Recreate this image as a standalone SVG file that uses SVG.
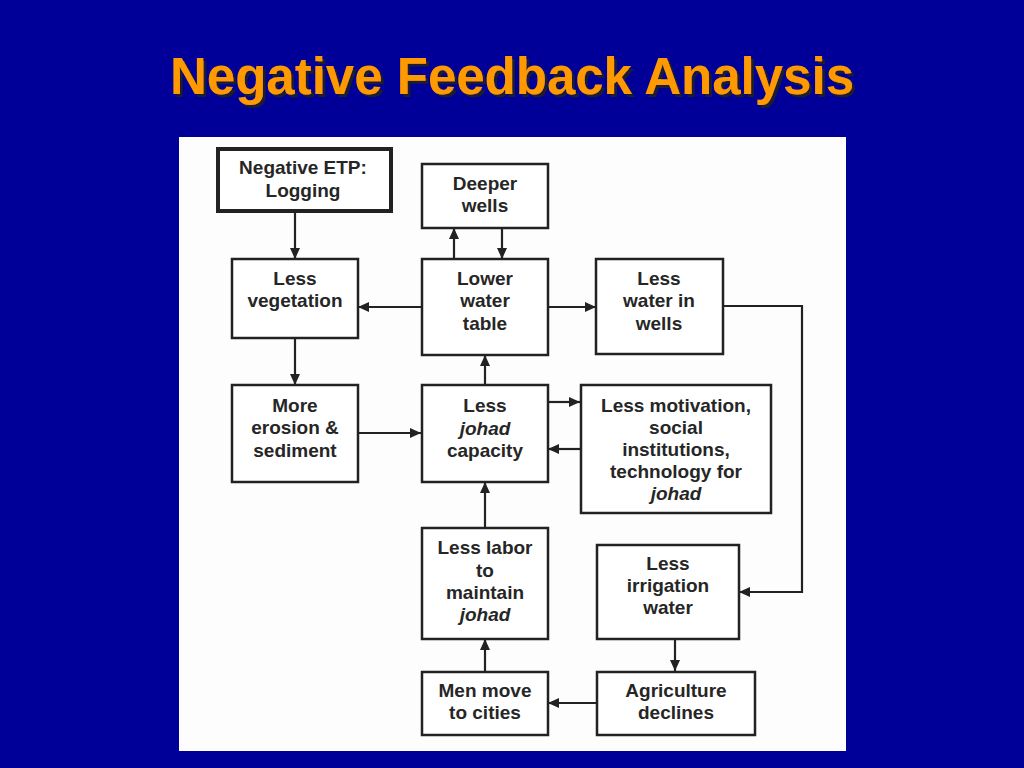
<svg xmlns="http://www.w3.org/2000/svg" width="1024" height="768" viewBox="0 0 1024 768">
<style>
.bx{fill:#fff;stroke:#222;stroke-width:2.5}
.bxt{fill:#fff;stroke:#222;stroke-width:4}
.t{font-family:"Liberation Sans",Arial,sans-serif;font-weight:bold;font-size:19px;fill:#262626;text-anchor:middle}
.i{font-style:italic}
.c{fill:none;stroke:#222;stroke-width:2.2}
.title{font-family:"Liberation Sans",Arial,sans-serif;font-weight:bold;font-size:51px}
</style>
<defs>
<marker id="ah" markerUnits="userSpaceOnUse" markerWidth="11" markerHeight="10" refX="11" refY="5" orient="auto">
<path d="M0,0 L11,5 L0,10 z" fill="#222"/>
</marker>
<filter id="sh" x="-5%" y="-20%" width="110%" height="150%">
<feOffset in="SourceAlpha" dx="3" dy="3" result="o"/>
<feFlood flood-color="#1a1a33"/>
<feComposite in2="o" operator="in" result="s"/>
<feMerge><feMergeNode in="s"/><feMergeNode in="SourceGraphic"/></feMerge>
</filter>
</defs>
<rect x="0" y="0" width="1024" height="768" fill="#000099"/>
<text class="title" x="170" y="94" fill="#ff9900" filter="url(#sh)" textLength="684" lengthAdjust="spacingAndGlyphs">Negative Feedback Analysis</text>
<rect x="179" y="137" width="667" height="614" fill="#fdfdfd"/>

<g id="connectors">
<line class="c" x1="295" y1="212" x2="295" y2="259" stroke-width="3.2" marker-end="url(#ah)"/>
<line class="c" x1="454" y1="259" x2="454" y2="228" marker-end="url(#ah)"/>
<line class="c" x1="502" y1="228" x2="502" y2="259" marker-end="url(#ah)"/>
<line class="c" x1="421" y1="307" x2="358" y2="307" marker-end="url(#ah)"/>
<line class="c" x1="548" y1="307" x2="596" y2="307" marker-end="url(#ah)"/>
<polyline class="c" points="723,306 802,306 802,592 739,592" marker-end="url(#ah)"/>
<line class="c" x1="295" y1="338" x2="295" y2="385" marker-end="url(#ah)"/>
<line class="c" x1="358" y1="433" x2="421" y2="433" marker-end="url(#ah)"/>
<line class="c" x1="485" y1="385" x2="485" y2="355" marker-end="url(#ah)"/>
<line class="c" x1="548" y1="402" x2="580" y2="402" marker-end="url(#ah)"/>
<line class="c" x1="580" y1="449" x2="548" y2="449" marker-end="url(#ah)"/>
<line class="c" x1="485" y1="528" x2="485" y2="482" marker-end="url(#ah)"/>
<line class="c" x1="675" y1="639" x2="675" y2="671" marker-end="url(#ah)"/>
<line class="c" x1="597" y1="703" x2="548" y2="703" marker-end="url(#ah)"/>
<line class="c" x1="485" y1="671" x2="485" y2="639" marker-end="url(#ah)"/>
</g>

<g id="n-logging">
<rect class="bxt" x="218" y="149" width="173" height="62"/>
<text class="t" x="303" y="174">Negative ETP:</text>
<text class="t" x="303" y="197">Logging</text>
</g>
<g id="n-deeper-wells">
<rect class="bx" x="422" y="164" width="126" height="64"/>
<text class="t" x="485" y="190">Deeper</text>
<text class="t" x="485" y="212">wells</text>
</g>
<g id="n-less-vegetation">
<rect class="bx" x="232" y="259" width="126" height="79"/>
<text class="t" x="295" y="285">Less</text>
<text class="t" x="295" y="307">vegetation</text>
</g>
<g id="n-lower-water-table">
<rect class="bx" x="422" y="259" width="126" height="96"/>
<text class="t" x="485" y="285">Lower</text>
<text class="t" x="485" y="307">water</text>
<text class="t" x="485" y="330">table</text>
</g>
<g id="n-less-water-wells">
<rect class="bx" x="596" y="259" width="127" height="95"/>
<text class="t" x="659" y="285">Less</text>
<text class="t" x="659" y="307">water in</text>
<text class="t" x="659" y="330">wells</text>
</g>
<g id="n-more-erosion">
<rect class="bx" x="232" y="385" width="126" height="97"/>
<text class="t" x="295" y="412">More</text>
<text class="t" x="295" y="434">erosion &amp;</text>
<text class="t" x="295" y="457">sediment</text>
</g>
<g id="n-less-johad">
<rect class="bx" x="422" y="385" width="126" height="97"/>
<text class="t" x="485" y="412">Less</text>
<text class="t i" x="485" y="435">johad</text>
<text class="t" x="485" y="457">capacity</text>
</g>
<g id="n-less-motivation">
<rect class="bx" x="581" y="385" width="190" height="128"/>
<text class="t" x="676" y="412">Less motivation,</text>
<text class="t" x="676" y="434">social</text>
<text class="t" x="676" y="456">institutions,</text>
<text class="t" x="676" y="478">technology for</text>
<text class="t i" x="676" y="500">johad</text>
</g>
<g id="n-less-labor">
<rect class="bx" x="422" y="528" width="126" height="111"/>
<text class="t" x="485" y="554">Less labor</text>
<text class="t" x="485" y="577">to</text>
<text class="t" x="485" y="599">maintain</text>
<text class="t i" x="485" y="621">johad</text>
</g>
<g id="n-less-irrigation">
<rect class="bx" x="597" y="545" width="142" height="94"/>
<text class="t" x="668" y="570">Less</text>
<text class="t" x="668" y="592">irrigation</text>
<text class="t" x="668" y="614">water</text>
</g>
<g id="n-men-move">
<rect class="bx" x="422" y="672" width="126" height="63"/>
<text class="t" x="485" y="697">Men move</text>
<text class="t" x="485" y="719">to cities</text>
</g>
<g id="n-agriculture">
<rect class="bx" x="597" y="672" width="158" height="63"/>
<text class="t" x="676" y="697">Agriculture</text>
<text class="t" x="676" y="719">declines</text>
</g>
</svg>
